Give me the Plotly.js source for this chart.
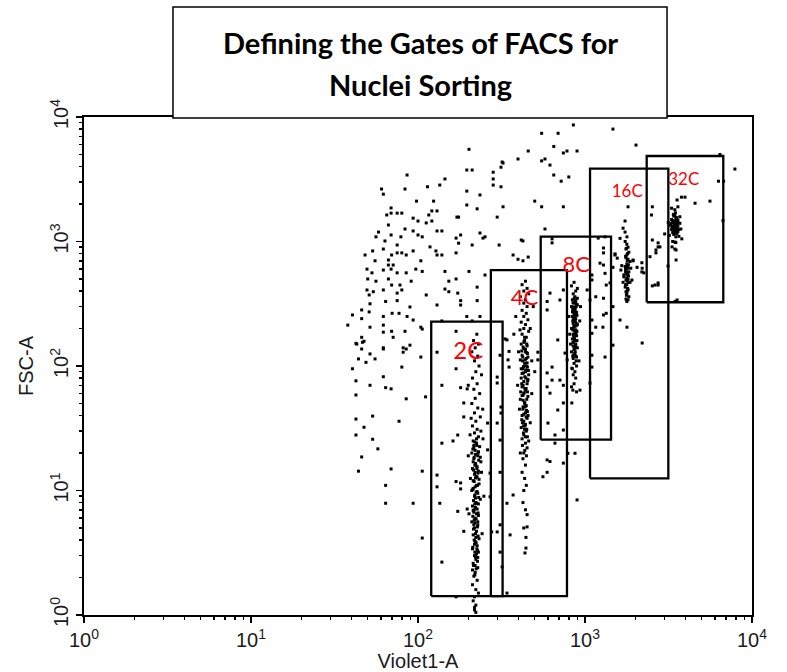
<!DOCTYPE html>
<html><head><meta charset="utf-8">
<script src="https://cdn.plot.ly/plotly-3.0.1.min.js"></script>
<style>html,body{margin:0;padding:0;background:#fff;} #chart{width:787px;height:672px;}</style>
</head><body><div id="chart"></div>
<script>
// Axis ticks
const tickVals = [1, 10, 100, 1000, 10000];
const tickText = ['10<sup>0</sup>', '10<sup>1</sup>', '10<sup>2</sup>', '10<sup>3</sup>', '10<sup>4</sup>'];

// Gates (Violet1-A range, FSC-A range)
const gateNames = ['2C', '4C', '8C', '16C', '32C'];
const gateX0 = [120, 273, 543, 1072, 2341];
const gateX1 = [321, 780, 1432, 3155, 6730];
const gateY0 = [1.42, 1.42, 25.6, 12.5, 325];
const gateY1 = [227, 590, 1093, 3846, 4860];
const labelX = [200, 434, 885, 1790, 3900];
const labelY = [127, 345, 625, 2470, 3080];
const labelSize = [24, 22, 22, 17, 17];

// Scattered events [Violet1-A, FSC-A]
const debrisPts = [[202,5500],[86,3420],[60.5,2640],[62,2400],[83.6,2640],[114,2750],[135,2840],[145,3180],[196,3750],[211,3750],[282,3600],[282,3180],[282,2840],[314,2750],[319,4350],[314,3950],[397,4600],[457,5330],[196,2540],[235,2365],[196,1965],[226,1830],[323,1900],[298,1570],[98,2110],[124,2110],[69,1860],[69,1690],[65,1633],[75,1690],[80,1690],[121,1760],[130,1760],[116,1633],[93.5,1540],[175,1570],[100,1460],[112,1410],[121,1460],[66.5,1357],[58,1190],[56,1090],[69,1128],[79,1090],[83.6,1260],[93.5,1215],[100,1128],[106,1090],[130,1215],[139,1215],[180,1128],[235,1170],[252,1090],[175,970],[211,937],[306,937],[425,1010],[63.4,1010],[75,937],[118,905],[48.2,779],[53.5,840],[62,870],[66.5,710],[69.5,779],[75,810],[80,810],[85,779],[93.5,840],[104,700],[128,840],[130,779],[139,779],[169,810],[55.3,700],[66.5,647],[71,647],[49.5,600],[53,560],[62,590],[69,600],[75,560],[85,560],[97,600],[106,575],[145,575],[202,575],[252,538],[371,779],[425,700],[50,500],[56,480],[66.5,500],[69.5,447],[78,447],[91,480],[153,480],[169,500],[49.5,408],[54,395],[62,408],[75,385],[80,408],[145,415],[153,395],[173,385],[226,430],[51,372],[64,330],[75,335],[112,372],[89.5,298],[130,309],[180,335],[180,309],[226,335],[51.6,316],[46,282],[51,272],[46,240],[40.5,257],[62,250],[70,265],[77,265],[86,250],[93.5,234],[62,213],[38,213],[51.6,205],[69.5,190],[83.6,190],[104,205],[106,198],[139,230],[196,250],[211,230],[235,250],[46,170],[43,150],[47.5,158],[71,170],[62,140],[81.5,140],[89.5,147],
[62,187],[42.5,152],[46.5,155],[46,137],[51.6,125],[48.8,107],[55.3,114],[44,114],[62,137],[81.5,129],[85,137],[80,98],[104,118],[130,129],[40.5,95],[42.5,76],[51.6,70],[62,82],[64,67],[69,65.5],[42.5,58.5],[85,54.5],[111,56.5],[53.5,39.6],[42.5,37.5],[47.5,32.2],[77,36],[42.5,27.9],[53.5,25.8],[57.5,21.6],[46,18.6],[44,14.3],[69,14.9],[106,14.3],[64,11],[64,7.9],[93.5,7.9],[106,4.15],[169,190],[169,95],[139,70],[180,67],[197,65.5],[188,50.5],[188,39],[173,27.9],[162,25],[139,24],[130,13.3],[130,10.7],[169,11.8],[180,11.5],[180,10.3],[135,7.9],[173,6.8],[197,7.1],[188,4.7],[139,2.66],[169,1.4],
[310,122],[298,81.5],[298,73],[314,46.8],[314,41.9],[298,34.8],[351,131],[346,112],[351,98],[341,162],[332,165],[408,195],[310,25.4],[310,14],[341,7.9],[371,9.2],[356,4.4],[310,5.3],[298,4.65],[310,3.2],[319,2.43],[341,1.5],[450,6.4],[450,5.1],[443,4.2],[443,3.45],[437,3.15],[261,34.8],[261,21.2],[270,13.8],[270,8.9],[276,4.65],[593,330],[617,385],[593,282],[742,408],[708,339],[687,162],[593,88],[635,77],[708,77],[593,68],[617,60.5],[742,70],[742,50.5],[687,44.3],[600,34.8],[742,30.6],[661,27.9],[661,24],[593,17.6],[617,17.1],[593,14],[560,12.9],[742,16.6],[790,19.9],[871,19.9],[896,8.4],[522,112],[522,129],[635,98],[759,127],[834,96],[846,64],[834,50.5],[933,64],[782,112],[1030,408],[1071,339],[1100,234],[1160,205],[1100,183],[1280,205],[1340,265],[1290,257],[1318,118],[1100,122],[1100,98],[1071,73],[1290,350],[1340,447],[1100,491],[1160,360],[1412,465],[1470,300],[1470,147],[1318,555],[1513,779],[1230,670],[1318,1090],[1621,1060],[1783,1090],[1783,205],[2200,153],[1621,234],[1940,710],[2050,620],[2190,570],[2530,1028],[2740,905],[2660,810],[3320,905],[3510,1300],[3510,710],[3560,339],[2625,447],[2740,465],[1470,620],[1290,887],
[852,8630],[1470,8000],[550,7400],[690,7400],[2020,5950],[650,5800],[742,5140],[780,5330],[896,5330],[550,4440],[576,4600],[617,4110],[323,4270],[650,3420],[800,3300],[720,3050],[500,2110],[550,1900],[742,1900],[171,1570],[576,1260],[245,1065],[415,1028],[169,1065],[397,720],[457,750],[635,1050],[635,975],[1200,1065],[1290,810],[1290,647],[1100,538],[1513,795],[1560,735],[2190,675],[2200,610],[2250,560],[2530,1900],[2500,1633],[2740,975],[2810,905],[2660,855],[2450,755],[2530,440],[2740,447],[3140,635],[3560,2155],[3780,2270],[3970,2270],[4560,2030],[5600,2110],[3510,855],[3460,990],[3460,330],[6430,5000],[7900,3820],[6300,3050],[6760,3050],[6700,1470],[1810,1900],[1737,1460],[1690,1280],[1737,1190]];

// 2C population
const pop2C = [[225,180],[215,160],[230,150],[220,140],[210,130],[228,120],[218,110],[232,100],[222,90],[212,80],[226,72],[216,65],[234,60],[220,55],[210,50],[228,46],[218,42],[236,39],[222,36],[212,33],[226,31],[218,29],[230,27],[214,25],[224,24],[234,22.5],[220,21],[210,20],[228,19],[216,18],[238,17],[222,16],[212,15],[230,14.3],[218,13.5],[226,12.8],[214,12],[232,11.3],[220,10.7],[210,10],[228,9.5],[218,9],[236,8.5],[222,8],[212,7.5],[226,7.1],[216,6.7],[230,6.3],[220,6],[210,5.6],[228,5.3],[218,5],[224,4.7],[214,4.4],[232,4.1],[220,3.9],[226,3.6],[212,3.4],[230,3.2],[218,3],[222,2.8],[214,2.6],[228,2.4],[220,2.2],[216,2.05],[226,1.9],[212,1.75],[222,1.6],[230,1.5],[218,1.4],[214,1.3],[222,1.2],[218,1.1],[205,28],[245,26],[240,14],[200,19],[248,9],[202,6.5],[242,4.5],[238,30],[208,38],[244,45],[200,70],[240,85],[206,12.5],[236,18.5],[216,22],[224,11],[221,16.5],[219,7.8],[223,13],[217,5.8],[227,3.3],[222,1.05],[218,1.15],[224,26],[216,23],[230,20.5],[214,17],[226,15.5],[220,14],[232,12.3],[214,10.4],[226,9.8],[221,8.7],[230,7.8],[214,6.9],[224,6.5],[228,5.6],[216,5.3],[222,4.2],[218,3.7],[224,3.1],[220,2.5],[228,2.9],[212,2.3],
[219,24.5],[225,23],[213,21.5],[229,20],[221,19.5],[217,18.5],[231,17.5],[219,16],[225,15],[215,14.6],[229,13.8],[221,12.6],[217,11.8],[227,11],[213,10.2],[223,9.7],[219,9.2],[231,8.8],[215,8.3],[225,7.9],[221,7.3],[217,7.0],[229,6.6],[213,6.2],[223,5.9],[219,5.5],[227,5.1],[215,4.9],[221,4.5],[229,4.3],[217,4.0],[223,3.8],[213,3.5],[225,3.4],[219,3.2],[221,2.95],[227,2.7],[215,2.5],[223,2.35],[219,2.1]];

// 4C population
const pop4C = [[440,480],[420,450],[450,420],[430,400],[460,380],[410,360],[440,340],[430,320],[450,300],[420,280],[445,265],[430,250],[455,235],[415,225],[440,215],[430,200],[460,190],[420,180],[445,170],[435,160],[415,150],[450,145],[430,138],[440,130],[420,122],[455,118],[410,112],[435,105],[445,100],[425,95],[440,90],[460,85],[415,80],[430,75],[450,72],[420,68],[440,64],[430,60],[455,57],[410,54],[435,51],[445,48],[425,45],[440,42],[420,40],[450,38],[430,36],[440,34],[415,32],[445,30],[430,28],[420,26],[440,24],[450,22],[430,20],[425,18],[440,16],[420,14],[435,12.5],[445,11],[430,10],[425,8],[440,7],[430,5],[470,200],[480,110],[400,130],[395,70],[480,60],[405,45],[470,35],[490,300],[385,250],[500,90],[375,180],[410,20],[460,25],[435,170],[445,115],[425,58],[455,78],[415,95],[438,47],[428,33],[432,155],[448,128],[422,110],[452,98],[428,88],[442,80],[418,72],[436,66],[452,62],[426,53],[446,44],[418,37],[434,31],[452,27],[422,23],[436,21],[446,19],
[432,158],[448,150],[426,142],[440,136],[452,126],[424,118],[438,112],[450,106],[428,99],[442,93],[420,87],[436,82],[454,76],[426,70],[444,66],[432,61],[420,58],[448,54],[436,50],[426,47],[452,43],[430,41],[444,39],[422,35],[438,33],[448,31],[428,29],[440,27],[456,40],[412,62],[458,92],[418,132]];

// 8C population
const pop8C = [[860,470],[830,440],[900,420],[880,400],[850,380],[870,360],[900,350],[840,340],[880,330],[860,320],[900,310],[830,300],[870,290],[850,280],[890,270],[860,260],[840,250],[880,240],[870,230],[850,220],[900,215],[860,205],[830,200],[880,195],[870,185],[850,180],[890,175],[860,170],[840,165],[870,160],[880,150],[850,145],[900,140],[860,135],[830,130],[870,125],[880,120],[850,115],[860,105],[890,100],[840,95],[870,90],[850,85],[880,80],[860,72],[830,68],[890,62],[800,250],[930,230],[810,180],[940,300],[820,150],[920,110],[865,210],[875,270],[855,155],[845,230],[895,190],[865,125],[875,330],[885,300],[845,285],[895,255],[855,245],[885,210],[845,195],[895,160],[875,140],[845,120],[885,110],
[862,350],[878,335],[848,322],[888,312],[858,298],[872,285],[842,272],[882,262],[866,250],[852,238],[876,226],[892,218],[858,210],[846,200],[870,192],[884,182],[856,175],[866,165],[848,155],[880,146],[862,138],[874,130],[852,122],[890,118]];

// 16C population
const pop16C = [[1740,1000],[1780,950],[1810,900],[1760,870],[1830,820],[1780,780],[1760,740],[1810,720],[1860,690],[1780,660],[1740,630],[1810,610],[1760,590],[1830,570],[1780,550],[1710,520],[1810,500],[1760,490],[1860,470],[1780,450],[1740,430],[1810,410],[1760,395],[1780,380],[1830,360],[1760,345],[1780,330],[1710,540],[1880,610],[1660,640],[1910,490],[1690,470],[1940,700],[1640,590],[1800,640],[1770,560],[1790,480],[1750,600],[1820,530],[1800,420],
[1770,880],[1800,800],[1750,760],[1790,700],[1820,650],[1770,610],[1750,570],[1800,540],[1780,510],[1820,470],[1750,450],[1790,400],[1770,370],[1810,340]];

// 32C population
const pop32C = [[3480,1700],[3400,1600],[3550,1550],[3300,1500],[3600,1480],[3450,1450],[3350,1420],[3700,1400],[3500,1380],[3250,1350],[3600,1330],[3400,1300],[3500,1280],[3750,1260],[3300,1250],[3450,1230],[3600,1200],[3350,1180],[3550,1160],[3400,1140],[3200,1120],[3650,1100],[3500,1090],[3300,1850],[3600,1900],[3450,1800],[3380,1650],[3700,1580],[3150,1420],[3520,1450],[3420,1350],[3580,1250],[3500,980],[3350,1000],[3450,870],[3800,1050],[3000,1150],
[3450,1620],[3520,1500],[3380,1470],[3480,1400],[3560,1350],[3320,1320],[3450,1300],[3550,1300],[3380,1230],[3480,1200],[3420,1170],[3600,1420],[3280,1400],[3500,1560],[3650,1250]];

const allPts = debrisPts.concat(pop2C, pop4C, pop8C, pop16C, pop32C);

const traces = [{
  type: 'scatter', mode: 'markers',
  x: allPts.map(p => p[0]), y: allPts.map(p => p[1]),
  marker: {symbol: 'square', size: 3, color: '#000', line: {width: 0}},
  hoverinfo: 'skip', showlegend: false
}];

for (let i = 0; i < gateNames.length; i++) {
  traces.push({
    type: 'scatter', mode: 'lines',
    x: [gateX0[i], gateX1[i], gateX1[i], gateX0[i], gateX0[i]],
    y: [gateY0[i], gateY0[i], gateY1[i], gateY1[i], gateY0[i]],
    line: {color: '#000', width: 2.3}, hoverinfo: 'skip', showlegend: false
  });
}

traces.push({
  type: 'scatter', mode: 'text',
  x: labelX, y: labelY, text: gateNames,
  textposition: 'middle center',
  textfont: {family: 'Lato, "Open Sans", sans-serif', size: labelSize, color: '#ff0000'},
  hoverinfo: 'skip', showlegend: false
});

// minor tick positions (2..9 in every decade)
const minorVals = [];
for (let d = 0; d < 4; d++) for (let m = 2; m <= 9; m++) minorVals.push(m * Math.pow(10, d));

const axisFont = {family: '"Liberation Sans", Arial, sans-serif', size: 20, color: '#1a1a1a'};
const baseAxis = {
  type: 'log', range: [0, 4], tickmode: 'array', tickvals: tickVals, ticktext: tickText,
  ticks: 'outside', ticklen: 6, tickwidth: 1.5, tickcolor: '#000',
  minor: {tickmode: 'array', tickvals: minorVals, ticks: 'outside', ticklen: 3, tickwidth: 1.5, tickcolor: '#000', showgrid: false},
  showline: true, linecolor: '#000', linewidth: 2, mirror: true,
  showgrid: false, zeroline: false, tickfont: axisFont, fixedrange: true
};

const layout = {
  width: 787, height: 672,
  margin: {l: 84, r: 35, t: 117, b: 57, pad: 0},
  paper_bgcolor: '#fff', plot_bgcolor: '#fff',
  xaxis: Object.assign({}, baseAxis, {
    title: {text: 'Violet1-A', font: axisFont, standoff: 0}
  }),
  yaxis: Object.assign({}, baseAxis, {
    tickangle: -90,
    title: {text: 'FSC-A', font: axisFont, standoff: 8}
  }),
  shapes: [{
    type: 'rect', xref: 'paper', yref: 'paper',
    x0: 0.1332, x1: 0.8728, y0: 0.998, y1: 1.2209,
    fillcolor: '#fff', line: {color: '#000', width: 1.5}, layer: 'above'
  }],
  annotations: [
    {xref: 'paper', yref: 'paper', x: 0.503, y: 1.1486, xanchor: 'center', yanchor: 'middle', showarrow: false,
     text: '<b>Defining the Gates of FACS for</b>', font: {family: 'Lato, "Open Sans", sans-serif', size: 29, color: '#000'}},
    {xref: 'paper', yref: 'paper', x: 0.503, y: 1.0643, xanchor: 'center', yanchor: 'middle', showarrow: false,
     text: '<b>Nuclei Sorting</b>', font: {family: 'Lato, "Open Sans", sans-serif', size: 29, color: '#000'}}
  ],
  showlegend: false
};

Plotly.newPlot('chart', traces, layout, {displayModeBar: false, staticPlot: true});
</script>
</body></html>
